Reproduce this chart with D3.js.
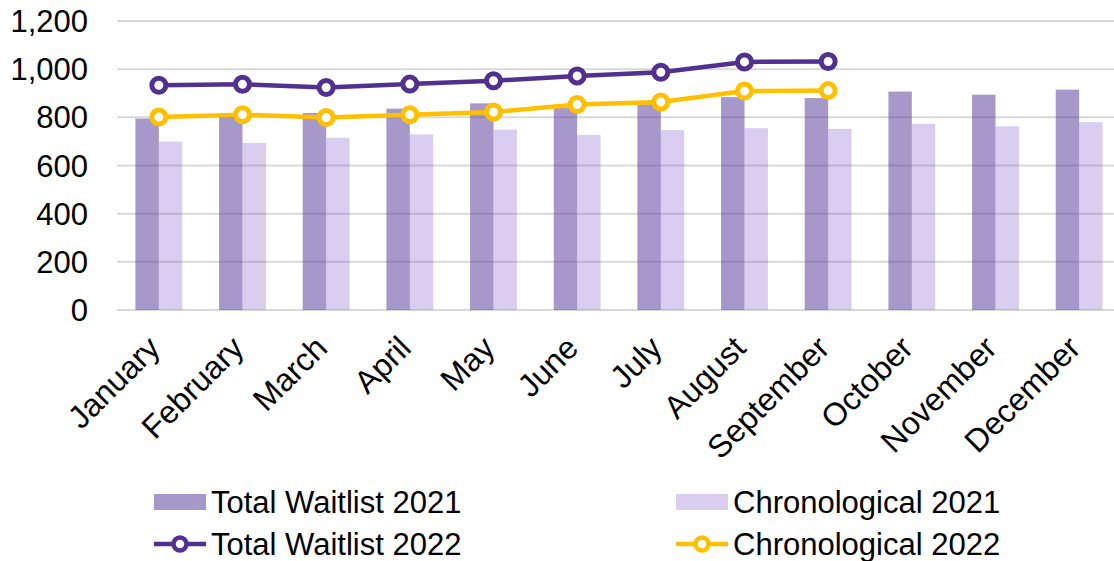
<!DOCTYPE html>
<html>
<head>
<meta charset="utf-8">
<script src="https://cdn.jsdelivr.net/npm/d3@7"></script>
<style>
  body { margin: 0; background: #fff; }
  text { font-family: "Liberation Sans", Arial, sans-serif; fill: #000; }
</style>
</head>
<body>
<div id="chart"></div>
<script>
// data
const months = ["January", "February", "March", "April", "May", "June",
  "July", "August", "September", "October", "November", "December"];
const total2021 = [795, 805, 818, 836, 858, 840, 855, 884, 880, 907, 894, 915];
const chrono2021 = [699, 694, 715, 729, 749, 727, 747, 755, 752, 773, 763, 780];
const total2022 = [933, 937, 924, 938, 952, 972, 987, 1030, 1032];
const chrono2022 = [801, 811, 799, 811, 822, 853, 864, 909, 911];
const yTicks = [0, 200, 400, 600, 800, 1000, 1200];

const W = 1114, H = 561;

const svg = d3.select("#chart").append("svg")
    .attr("width", W)
    .attr("height", H);

const x = d3.scaleBand().domain(months).range([117, 1121])
    .paddingInner(0.44).paddingOuter(0.22);
const x1 = d3.scaleBand().domain(["t", "c"]).range([0, x.bandwidth()]);
const y = d3.scaleLinear().domain([0, 1200]).range([310, 21]);
const cx = d => x(d) + x.bandwidth() / 2;

// gridlines
svg.append("g").selectAll("line")
  .data(yTicks)
  .join("line")
    .attr("x1", 117).attr("x2", W)
    .attr("y1", d => y(d)).attr("y2", d => y(d))
    .attr("stroke", "#d9d9d9")
    .attr("stroke-width", 2);

// y labels
svg.append("g").selectAll("text")
  .data(yTicks)
  .join("text")
    .attr("x", 88)
    .attr("y", d => y(d))
    .attr("dy", "0.36em")
    .attr("text-anchor", "end")
    .style("font-size", "31px")
    .text(d => d3.format(",")(d));

// bars (semi transparent so the grid shows through)
const bars = svg.append("g");
bars.selectAll(".t").data(months).join("rect")
    .attr("x", (d) => x(d) + x1("t"))
    .attr("width", x1.bandwidth())
    .attr("y", (d, i) => y(total2021[i]))
    .attr("height", (d, i) => y(0) - y(total2021[i]))
    .attr("fill", "rgba(80,50,150,0.5)");
bars.selectAll(".c").data(months).join("rect")
    .attr("x", (d) => x(d) + x1("c"))
    .attr("width", x1.bandwidth())
    .attr("y", (d, i) => y(chrono2021[i]))
    .attr("height", (d, i) => y(0) - y(chrono2021[i]))
    .attr("fill", "rgba(120,80,200,0.28)");

// lines with hollow markers
function addLine(vals, color) {
  const pts = vals.map((v, i) => [cx(months[i]), y(v)]);
  svg.append("path")
    .attr("d", d3.line()(pts))
    .attr("fill", "none")
    .attr("stroke", color)
    .attr("stroke-width", 4.5)
    .attr("stroke-linejoin", "round");
  svg.append("g").selectAll("circle")
    .data(pts)
    .join("circle")
      .attr("cx", d => d[0])
      .attr("cy", d => d[1])
      .attr("r", 7)
      .attr("fill", "#fff")
      .attr("stroke", color)
      .attr("stroke-width", 5);
}
addLine(total2022, "#51308f");
addLine(chrono2022, "#ffc000");

// x labels, rotated
svg.append("g").selectAll("text")
  .data(months)
  .join("text")
    .attr("transform", d => `translate(${cx(d) + 3},${350}) rotate(-45)`)
    .attr("text-anchor", "end")
    .style("font-size", "32px")
    .text(d => d);

// legend
const legend = [
  {name: "Total Waitlist 2021", type: "bar", color: "rgba(80,50,150,0.5)", x: 154, y: 502},
  {name: "Chronological 2021", type: "bar", color: "rgba(120,80,200,0.28)", x: 676, y: 502},
  {name: "Total Waitlist 2022", type: "line", color: "#51308f", x: 154, y: 544},
  {name: "Chronological 2022", type: "line", color: "#ffc000", x: 676, y: 544}
];
const lg = svg.append("g").selectAll("g").data(legend).join("g")
    .attr("transform", d => `translate(${d.x},${d.y})`);
lg.filter(d => d.type === "bar").append("rect")
    .attr("x", 0).attr("y", -8).attr("width", 52).attr("height", 16)
    .attr("fill", d => d.color);
lg.filter(d => d.type === "line").append("line")
    .attr("x1", 0).attr("x2", 52)
    .attr("stroke", d => d.color).attr("stroke-width", 4.5);
lg.filter(d => d.type === "line").append("circle")
    .attr("cx", 26).attr("r", 6.5)
    .attr("fill", "#fff").attr("stroke", d => d.color).attr("stroke-width", 4.5);
lg.append("text")
    .attr("x", 57)
    .attr("dy", "0.36em")
    .style("font-size", "31px")
    .text(d => d.name);
</script>
</body>
</html>
